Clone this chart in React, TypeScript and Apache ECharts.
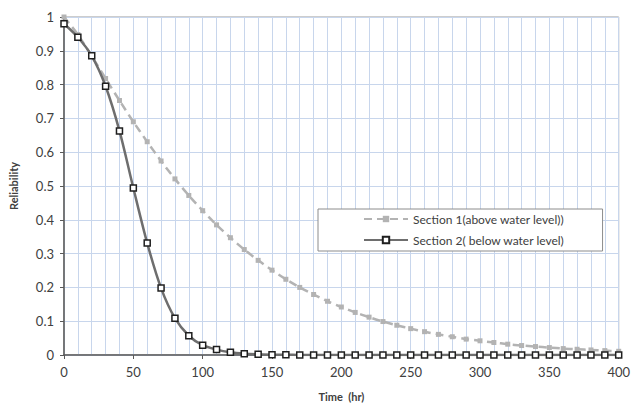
import React, { useEffect, useRef } from "react";
import * as echarts from "echarts";

const times: number[] = [
  0, 10, 20, 30, 40, 50, 60, 70, 80, 90, 100, 110, 120, 130, 140, 150, 160, 170, 180, 190,
  200, 210, 220, 230, 240, 250, 260, 270, 280, 290, 300, 310, 320, 330, 340, 350, 360, 370,
  380, 390, 400,
];

const section1: number[] = [
  1.0, 0.948, 0.884, 0.818, 0.753, 0.69, 0.631, 0.574, 0.521, 0.472, 0.427, 0.385, 0.347,
  0.312, 0.28, 0.251, 0.224, 0.2, 0.179, 0.159, 0.142, 0.126, 0.112, 0.099, 0.088, 0.078,
  0.069, 0.061, 0.054, 0.047, 0.042, 0.037, 0.032, 0.028, 0.025, 0.022, 0.019, 0.017, 0.015,
  0.013, 0.011,
];

const section2: number[] = [
  0.98, 0.94, 0.885, 0.795, 0.663, 0.494, 0.331, 0.198, 0.109, 0.057, 0.029, 0.016, 0.008,
  0.004, 0.002, 0.001, 0.001, 0, 0, 0, 0, 0, 0, 0, 0, 0, 0, 0, 0, 0, 0, 0, 0, 0, 0, 0, 0, 0,
  0, 0, 0,
];

const seriesNames: string[] = ["Section 1(above water level))", "Section 2( below water level)"];

const FONT = "Lato, 'Open Sans', sans-serif";
const GRID_COLOR = "#c8d6ec";

export default function App() {
  const ref = useRef<HTMLDivElement>(null);
  useEffect(() => {
    document.body.style.margin = "0";
    document.body.style.overflow = "hidden";
    if (!ref.current) return;
    const chart = echarts.init(ref.current, undefined, { renderer: "svg" });
    chart.setOption({
      animation: false,
      backgroundColor: "#ffffff",
      grid: {
        left: 61,
        right: 11,
        top: 17,
        bottom: 48,
        containLabel: false,
        show: true,
        borderColor: "#9a9a9a",
        borderWidth: 1,
        backgroundColor: "transparent",
      },
      legend: {
        orient: "vertical",
        left: 318,
        top: 209,
        padding: [4, 38, 5, 45],
        itemGap: 9,
        itemWidth: 44,
        itemHeight: 8,
        backgroundColor: "#ffffff",
        borderColor: "#8c8c8c",
        borderWidth: 1,
        textStyle: { fontFamily: FONT, fontSize: 12, color: "#404040" },
        data: seriesNames,
      },
      xAxis: {
        type: "value",
        min: 0,
        max: 400,
        interval: 50,
        name: "Time  (hr)",
        nameLocation: "middle",
        nameGap: 36,
        nameTextStyle: { fontFamily: FONT, fontSize: 11, fontWeight: "bold", color: "#404040" },
        axisLine: { show: true, lineStyle: { color: "#595959", width: 1.5 } },
        axisTick: { show: true, length: 4, lineStyle: { color: "#595959" } },
        axisLabel: { fontFamily: FONT, fontSize: 13, color: "#404040", margin: 10 },
        splitLine: { show: true, lineStyle: { color: GRID_COLOR, width: 1 } },
        minorTick: { show: false, splitNumber: 5 },
        minorSplitLine: { show: true, lineStyle: { color: GRID_COLOR, width: 1 } },
      },
      yAxis: {
        type: "value",
        min: 0,
        max: 1,
        interval: 0.1,
        name: "Reliability",
        nameLocation: "middle",
        nameGap: 45,
        nameTextStyle: { fontFamily: FONT, fontSize: 11, fontWeight: "bold", color: "#404040" },
        axisLine: { show: true, lineStyle: { color: "#595959", width: 1.5 } },
        axisTick: { show: true, length: 4, lineStyle: { color: "#595959" } },
        axisLabel: {
          fontFamily: FONT,
          fontSize: 13,
          color: "#404040",
          margin: 10,
          formatter: (v: number) => String(Math.round(v * 10) / 10),
        },
        splitLine: { show: true, lineStyle: { color: GRID_COLOR, width: 1 } },
      },
      series: [
        {
          name: seriesNames[0],
          type: "line",
          data: times.map((t, i) => [t, section1[i]]),
          symbol: "rect",
          symbolSize: 5,
          showSymbol: true,
          smooth: 0.3,
          lineStyle: { color: "#b3b3b3", width: 2.5, type: [8, 5] },
          itemStyle: { color: "#b3b3b3", borderColor: "#b3b3b3", borderWidth: 0 },
          z: 2,
        },
        {
          name: seriesNames[1],
          type: "line",
          data: times.map((t, i) => [t, section2[i]]),
          symbol: "rect",
          symbolSize: 6,
          showSymbol: true,
          smooth: 0.3,
          lineStyle: { color: "#6e6e6e", width: 2.5 },
          itemStyle: { color: "#ffffff", borderColor: "#1f1f1f", borderWidth: 1.5 },
          z: 3,
        },
      ],
    });
    return () => chart.dispose();
  }, []);
  return (
    <div
      ref={ref}
      style={{ position: "fixed", left: 0, top: 0, width: 633, height: 407 }}
    />
  );
}
